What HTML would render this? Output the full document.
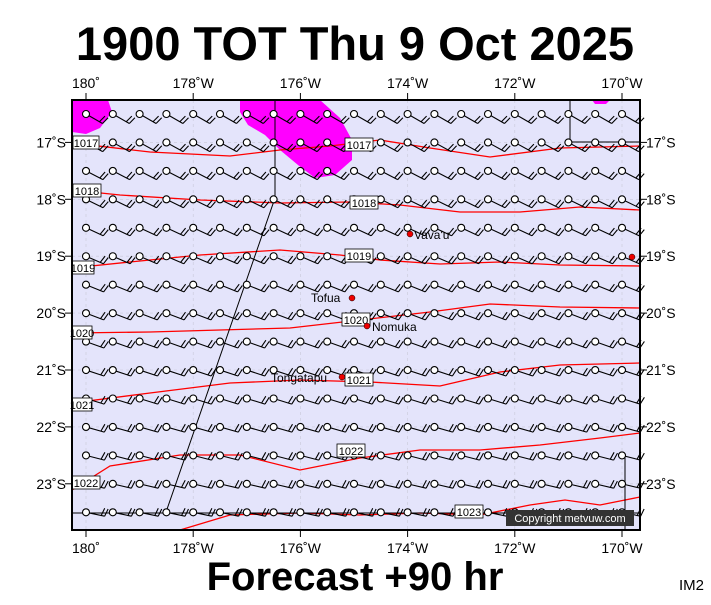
<!DOCTYPE html>
<html><head><meta charset="utf-8"><style>
body{margin:0;background:#fff;width:711px;height:600px;overflow:hidden;font-family:"Liberation Sans",sans-serif}
</style></head><body>
<svg id="s" width="711" height="600" xmlns="http://www.w3.org/2000/svg" font-family="Liberation Sans, sans-serif">
<text x="355" y="60" font-size="47" font-weight="bold" text-anchor="middle">1900 TOT Thu 9 Oct 2025</text>
<text x="355" y="590" font-size="40" font-weight="bold" text-anchor="middle">Forecast +90 hr</text>
<text x="679" y="590" font-size="15">IM2</text>
<rect x="72" y="100" width="568" height="430" fill="#e4e4fb"/>
<g id="grid" stroke="#c8c8d8" stroke-width="0.6" stroke-dasharray="3,3"></g>
<path d="M72,100 L108,100 L112,112 L100,128 L86,134 L72,132Z" fill="#f0f"/>
<path d="M240,100 L320,100 L340,118 L352,140 L352,160 L335,175 L315,178 L298,165 L280,150 L265,135 L248,125 L240,112Z" fill="#f0f"/>
<path d="M592,100 L610,100 L606,104 L595,104Z" fill="#f0f"/>
<g fill="none" stroke="#f00" stroke-width="1.3">
<polyline points="72,143 150,152 230,156 280,150 330,146 380,140 430,148 490,157 560,148 640,146"/>
<polyline points="72,190 120,195 200,200 280,203 350,202 400,205 460,212 520,212 580,207 640,210"/>
<polyline points="72,268 130,262 200,255 280,250 340,255 380,260 440,264 500,262 560,265 640,266"/>
<polyline points="72,333 150,332 220,330 290,328 360,320 430,312 490,304 560,307 640,308"/>
<polyline points="72,403 150,393 230,383 300,380 370,382 440,386 500,372 560,365 640,363"/>
<polyline points="72,490 110,466 180,455 240,455 300,470 360,458 420,450 480,450 540,445 600,438 640,433"/>
<polyline points="180,530 230,515 300,513 360,515 420,513 480,515 530,505 565,500 600,505 640,497"/>
</g>
<g fill="none" stroke="#000" stroke-width="1">
<polyline points="275,100 275,198 165,515"/>
<polyline points="570,100 570,142 640,142"/>
<polyline points="625,455 625,530"/>
<line x1="72" y1="513" x2="640" y2="513"/>
</g>
<g id="barbs" stroke="#000" stroke-width="1.1" fill="#fff"></g>
<g font-size="11" text-anchor="middle">
<g fill="#fff" stroke="#000" stroke-width="0.8">
<rect x="73" y="136" width="26" height="13"/><rect x="73" y="184" width="28" height="13"/>
<rect x="72" y="261" width="22" height="13"/><rect x="72" y="326" width="20" height="13"/>
<rect x="72" y="398" width="20" height="13"/><rect x="72" y="476" width="28" height="13"/>
<rect x="345" y="138" width="28" height="13"/><rect x="350" y="196" width="28" height="13"/>
<rect x="345" y="249" width="28" height="13"/><rect x="342" y="313" width="28" height="13"/>
<rect x="345" y="373" width="28" height="13"/><rect x="337" y="444" width="28" height="13"/>
<rect x="455" y="505" width="28" height="13"/>
</g>
<text x="86" y="147">1017</text><text x="87" y="195">1018</text><text x="83" y="272">1019</text>
<text x="82" y="337">1020</text><text x="82" y="409">1021</text><text x="86" y="487">1022</text>
<text x="359" y="149">1017</text><text x="364" y="207">1018</text><text x="359" y="260">1019</text>
<text x="356" y="324">1020</text><text x="359" y="384">1021</text><text x="351" y="455">1022</text><text x="469" y="516">1023</text>
</g>
<g fill="#e00" stroke="#000" stroke-width="0.5">
<circle cx="410" cy="234" r="3"/><circle cx="352" cy="298" r="3"/><circle cx="367" cy="326" r="3"/><circle cx="342" cy="377" r="3"/><circle cx="632" cy="257" r="3"/>
</g>
<g font-size="12">
<text x="414" y="239">Vava'u</text><text x="311" y="302">Tofua</text><text x="372" y="331">Nomuka</text><text x="271" y="382">Tongatapu</text>
</g>
<rect x="506" y="510" width="128" height="16" fill="#333"/>
<text x="570" y="522" font-size="11" fill="#fff" text-anchor="middle">Copyright metvuw.com</text>
<rect x="72" y="100" width="568" height="430" fill="none" stroke="#000" stroke-width="2"/>
<g id="ax" font-size="14" fill="#000"></g>
</svg>
<script>
var NS="http://www.w3.org/2000/svg";
function el(p,t,a,txt){var e=document.createElementNS(NS,t);for(var k in a)e.setAttribute(k,a[k]);if(txt)e.textContent=txt;document.getElementById(p).appendChild(e);return e;}
var x0=86,dx=26.8,y0=114,dy=28.45;
for(var c=0;c<=5;c++){var x=x0+c*107.2;el('grid','line',{x1:x,y1:100,x2:x,y2:530});
 var lab=c==0?'180˚':(180-2*c)+'˚W';
 el('ax','text',{x:x,y:88,'text-anchor':'middle'},lab);el('ax','text',{x:x,y:553,'text-anchor':'middle'},lab);
 el('ax','line',{x1:x,y1:93,x2:x,y2:100,stroke:'#000'});el('ax','line',{x1:x,y1:530,x2:x,y2:537,stroke:'#000'});}
for(var r=0;r<7;r++){var y=142.4+r*56.9;el('grid','line',{x1:72,y1:y,x2:640,y2:y});
 var lab=(17+r)+'˚S';el('ax','text',{x:66,y:y+5,'text-anchor':'end'},lab);el('ax','text',{x:646,y:y+5},lab);
 el('ax','line',{x1:65,y1:y,x2:72,y2:y,stroke:'#000'});el('ax','line',{x1:640,y1:y,x2:647,y2:y,stroke:'#000'});}
for(var r=0;r<15;r++){var y=y0+r*dy;var ang=(30-r*1.3)*Math.PI/180;
 for(var i=0;i<=20;i++){var x=x0+i*dx;var L=19;
  var ex=x+L*Math.cos(ang),ey=y+L*Math.sin(ang);
  var p='M'+x+','+y+'L'+ex.toFixed(1)+','+ey.toFixed(1);
  var ux=Math.cos(ang),uy=Math.sin(ang);
  for(var b=0;b<2;b++){var bx=ex-ux*b*3.5,by=ey-uy*b*3.5;var ba=ang-Math.PI*0.42;
   p+='M'+bx.toFixed(1)+','+by.toFixed(1)+'l'+(8*Math.cos(ba)).toFixed(1)+','+(8*Math.sin(ba)).toFixed(1);}
  el('barbs','path',{d:p,fill:'none'});
  el('barbs','circle',{cx:x,cy:y,r:3.5});}}
</script>
</body></html>
